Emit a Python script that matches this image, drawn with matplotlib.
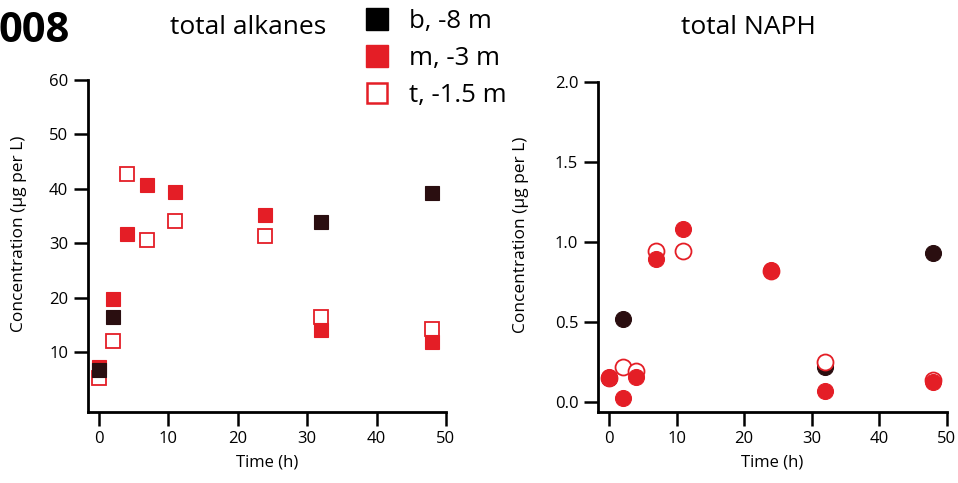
import matplotlib
matplotlib.use("Agg")
import matplotlib.pyplot as plt
from matplotlib.lines import Line2D

plt.rcParams['font.family'] = ['Open Sans', 'DejaVu Sans']

# ---- data ----
time_b = [0, 2, 32, 48]
time_all = [0, 2, 4, 7, 11, 24, 32, 48]

alk_b = [6.6, 16.5, 33.8, 39.2]
alk_m = [7.3, 19.8, 31.7, 40.6, 39.4, 35.2, 14.0, 11.8]
alk_t = [5.2, 12.0, 42.8, 30.5, 34.1, 31.4, 16.5, 14.2]

naph_b = [0.15, 0.52, 0.215, 0.93]
naph_m = [0.156, 0.021, 0.156, 0.892, 1.077, 0.823, 0.067, 0.121]
naph_t = [0.15, 0.215, 0.19, 0.944, 0.94, 0.82, 0.25, 0.135]

legend_labels = ["b, -8 m", "m, -3 m", "t, -1.5 m"]
xticks = [0, 10, 20, 30, 40, 50]
alk_yticks = [10, 20, 30, 40, 50, 60]
naph_yticks = [0.0, 0.5, 1.0, 1.5, 2.0]

BLACK = "#2a0e10"
RED = "#e41e26"

fig = plt.figure(figsize=(9.58, 4.83), dpi=100)
ax1 = fig.add_axes([0.0915, 0.1476, 0.374, 0.6868])
ax2 = fig.add_axes([0.6239, 0.1476, 0.3643, 0.6832])

def style(ax, ylab_x):
    for s in ['top', 'right']:
        ax.spines[s].set_visible(False)
    for s in ['left', 'bottom']:
        ax.spines[s].set_linewidth(2.0)
    ax.tick_params(direction='out', length=10, width=1.8, labelsize=12, pad=4)
    ax.set_xticks(xticks)
    ax.set_xlabel("Time (h)", fontsize=12, labelpad=5)
    ax.set_ylabel("Concentration (µg per L)", fontsize=12.5)
    ax.yaxis.set_label_coords(ylab_x, 0.537)

# left: alkanes (squares)
ax1.plot(time_all, alk_t, 's', ms=10.5, mfc='white', mec=RED, mew=1.3, ls='none', zorder=3)
ax1.plot(time_all, alk_m, 's', ms=10.5, mfc=RED, mec=RED, mew=0.8, ls='none', zorder=4)
ax1.plot(time_b, alk_b, 's', ms=10.5, mfc=BLACK, mec=BLACK, mew=0.8, ls='none', zorder=5)
ax1.set_xlim(-1.6, 50)
ax1.set_ylim(-1.0, 60)
ax1.set_yticks(alk_yticks)
style(ax1, -0.169)

# right: NAPH (circles)
ax2.plot(time_b, naph_b, 'o', ms=11.5, mfc=BLACK, mec=BLACK, mew=0.8, ls='none', zorder=3)
ax2.plot(time_all, naph_t, 'o', ms=11.5, mfc='white', mec=RED, mew=1.3, ls='none', zorder=4)
ax2.plot(time_all, naph_m, 'o', ms=11.5, mfc=RED, mec=RED, mew=0.8, ls='none', zorder=5)
ax2.set_xlim(-1.7, 50)
ax2.set_ylim(-0.0625, 2.0)
ax2.set_yticks(naph_yticks)
ax2.set_yticklabels([f"{v:.1f}" for v in naph_yticks])
style(ax2, -0.197)

fig.text(248/958, 1 - 28/483, "total alkanes", fontsize=19, ha='center', va='center')
fig.text(748/958, 1 - 28/483, "total NAPH", fontsize=19, ha='center', va='center')
fig.text(-0.002, 1 - 32/483, "008", fontsize=30, fontweight='bold', ha='left', va='center')

handles = [
    Line2D([], [], marker='s', ls='none', ms=16, mfc='black', mec='black'),
    Line2D([], [], marker='s', ls='none', ms=16, mfc=RED, mec=RED),
    Line2D([], [], marker='s', ls='none', ms=15, mfc='white', mec=RED, mew=1.8),
]
fig.legend(handles, legend_labels, loc='upper left', bbox_to_anchor=(364.5/958, 0.981),
           frameon=False, fontsize=18.5, handlelength=1.0, handletextpad=0.75,
           labelspacing=0.47, borderaxespad=0, borderpad=0)

fig.savefig("out.png", dpi=100)
